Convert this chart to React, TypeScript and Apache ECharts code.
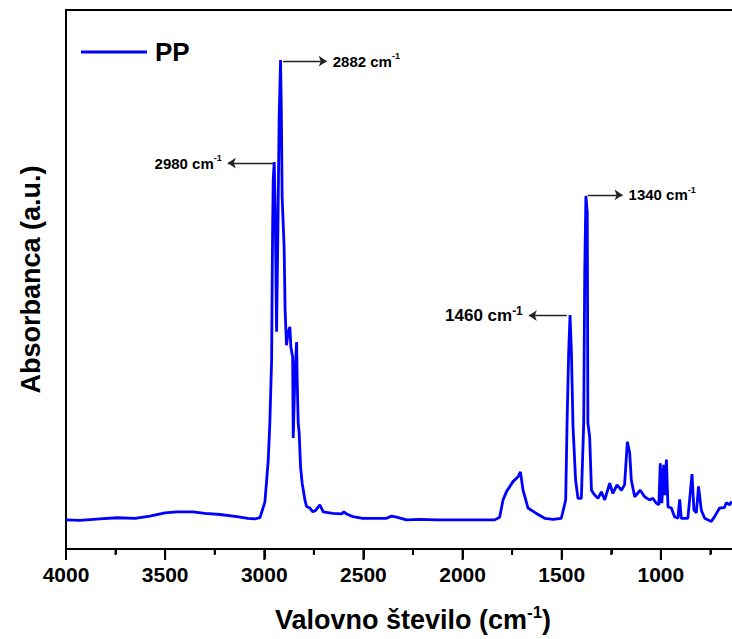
import React, { useEffect, useRef } from 'react';
import * as echarts from 'echarts';

const wavenumbers = [
  4000, 3929, 3829, 3743, 3652, 3577, 3501, 3441, 3360, 3299, 3224, 3138, 3083, 3047, 3022,
  2997, 2980, 2972, 2963, 2960, 2958, 2955, 2950, 2945, 2938, 2932, 2925, 2918, 2914, 2910,
  2900, 2895, 2888, 2880, 2871, 2866, 2857, 2854, 2846, 2837, 2834, 2829, 2824, 2817, 2809,
  2795, 2787, 2770, 2755, 2740, 2720, 2703, 2654, 2610, 2599, 2585, 2553, 2503, 2384, 2358,
  2333, 2283, 2216, 2132, 1964, 1838, 1813, 1796, 1779, 1746, 1720, 1708, 1695, 1670, 1628,
  1586, 1544, 1502, 1480, 1473, 1465, 1458, 1451, 1443, 1430, 1418, 1401, 1389, 1384, 1378,
  1371, 1368, 1359, 1350, 1334, 1317, 1300, 1283, 1258, 1242, 1221, 1199, 1183, 1169, 1157,
  1149, 1132, 1104, 1082, 1057, 1040, 1023, 1010, 1003, 995, 986, 980, 972, 964, 947,
  931, 914, 905, 897, 864, 855, 843, 833, 821, 810, 796, 779, 746, 729, 704,
  679, 670, 653, 643,
];

const absorbance = [
  0.054, 0.053, 0.056, 0.058, 0.057, 0.061, 0.067, 0.069, 0.069, 0.066, 0.064, 0.060, 0.057, 0.056, 0.058,
  0.087, 0.165, 0.234, 0.351, 0.505, 0.592, 0.685, 0.718, 0.629, 0.403, 0.573, 0.801, 0.907, 0.814, 0.653,
  0.560, 0.443, 0.378, 0.401, 0.412, 0.375, 0.356, 0.206, 0.319, 0.384, 0.314, 0.234, 0.215, 0.152, 0.122,
  0.091, 0.079, 0.076, 0.069, 0.072, 0.082, 0.069, 0.066, 0.065, 0.069, 0.065, 0.060, 0.057, 0.057, 0.061,
  0.059, 0.054, 0.055, 0.054, 0.054, 0.054, 0.059, 0.091, 0.106, 0.125, 0.134, 0.143, 0.109, 0.076, 0.066,
  0.057, 0.055, 0.057, 0.091, 0.234, 0.364, 0.434, 0.364, 0.227, 0.128, 0.094, 0.094, 0.234, 0.512, 0.655,
  0.623, 0.234, 0.208, 0.109, 0.100, 0.094, 0.106, 0.091, 0.122, 0.103, 0.119, 0.109, 0.119, 0.199, 0.178,
  0.128, 0.097, 0.109, 0.097, 0.091, 0.094, 0.085, 0.082, 0.159, 0.085, 0.156, 0.100, 0.166, 0.078, 0.076,
  0.060, 0.057, 0.092, 0.057, 0.057, 0.091, 0.139, 0.072, 0.067, 0.116, 0.072, 0.057, 0.051, 0.060, 0.076,
  0.077, 0.086, 0.082, 0.088,
];

// Tick positions on the wavenumber axis
const majorTicks = [4000, 3500, 3000, 2500, 2000, 1500, 1000];
const minorTicks = [3750, 3250, 2750, 2250, 1750, 1250, 750];

// Peak annotations: label text, arrow start and arrow end (wavenumber, absorbance)
const annotationLabels = ['2882', '2980', '1340', '1460'];
const annotationStart = [[2905, 0.905], [2955, 0.716], [1369, 0.657], [1475, 0.433]];
const annotationEnd = [[2685, 0.905], [3184, 0.716], [1193, 0.657], [1666, 0.433]];
const annotationFont = [15, 15, 15, 17];

const seriesName = 'PP';
const xTitle = 'Valovno število (cm';
const yTitle = 'Absorbanca (a.u.)';

const FONT = '"Liberation Sans", Arial, Helvetica, sans-serif';

export default function App() {
  const ref = useRef<HTMLDivElement>(null);

  useEffect(() => {
    document.body.style.margin = '0';
    if (!ref.current) return;
    const chart = echarts.init(ref.current, null, { renderer: 'svg' });

    const data = wavenumbers.map((w, i) => [w, absorbance[i]]);
    const tickData = [
      ...majorTicks.map((v) => [v, 0, 10]),
      ...minorTicks.map((v) => [v, 0, 5]),
    ];

    const markData = annotationLabels.map((lab, i) => {
      const fs = annotationFont[i];
      const big = fs > 15;
      return [
        { coord: annotationStart[i], symbol: 'none' },
        {
          coord: annotationEnd[i],
          symbol: 'arrow',
          label: {
            show: true,
            position: 'end',
            distance: 6,
            formatter: `{a|${lab} cm}{b|-1}`,
            rich: {
              a: { fontSize: fs, fontWeight: 'bold', fontFamily: FONT, color: '#000', lineHeight: fs + 4 },
              b: {
                fontSize: big ? 12 : 9,
                fontWeight: 'bold',
                fontFamily: FONT,
                color: '#000',
                lineHeight: big ? 13 : 10,
                verticalAlign: 'top',
              },
            },
          },
        },
      ];
    });

    const option: any = {
      animation: false,
      grid: {
        left: 66,
        top: 10,
        width: 694,
        height: 539,
        outerBoundsMode: 'none',
        containLabel: false,
        show: true,
        borderColor: '#000',
        borderWidth: 2,
        backgroundColor: 'transparent',
      },
      legend: {
        data: [{ name: seriesName, icon: 'rect' }],
        left: 76,
        top: 34,
        itemWidth: 66,
        itemHeight: 3,
        itemGap: 10,
        textStyle: {
          fontFamily: FONT,
          fontWeight: 'bold',
          fontSize: 26,
          color: '#000',
          padding: [0, 0, 0, 3],
        },
      },
      xAxis: {
        type: 'value',
        min: 500,
        max: 4000,
        interval: 500,
        inverse: true,
        axisLine: { show: true, onZero: false, lineStyle: { color: '#000', width: 2 } },
        axisTick: { show: true, inside: false, length: 10, lineStyle: { color: '#000', width: 2 } },
        minorTick: { show: true, splitNumber: 2, length: 5, lineStyle: { color: '#000', width: 2 } },
        splitLine: { show: false },
        axisLabel: {
          fontFamily: FONT,
          fontWeight: 'bold',
          fontSize: 21,
          color: '#000',
          margin: 15,
          formatter: (v: number) => (v === 500 ? '' : String(v)),
        },
        name: `{a|${xTitle}}{b|-1}{a|)}`,
        nameLocation: 'middle',
        nameGap: 55,
        nameTextStyle: {
          rich: {
            a: { fontFamily: FONT, fontWeight: 'bold', fontSize: 27, color: '#000', lineHeight: 32 },
            b: { fontFamily: FONT, fontWeight: 'bold', fontSize: 17, color: '#000', lineHeight: 20, verticalAlign: 'top' },
          },
        },
      },
      yAxis: {
        type: 'value',
        min: 0,
        max: 1,
        axisLine: { show: true, onZero: false, lineStyle: { color: '#000', width: 2 } },
        axisTick: { show: false },
        axisLabel: { show: false },
        splitLine: { show: false },
        name: yTitle,
        nameLocation: 'middle',
        nameGap: 22,
        nameTextStyle: { fontFamily: FONT, fontWeight: 'bold', fontSize: 27, color: '#000' },
      },
      series: [
        {
          type: 'line',
          name: seriesName,
          data,
          showSymbol: false,
          symbol: 'none',
          lineStyle: { color: '#0000ff', width: 2.8 },
          itemStyle: { color: '#0000ff' },
          markLine: {
            silent: true,
            symbolSize: 8,
            lineStyle: { color: '#222', width: 1.3, type: 'solid' },
            emphasis: { disabled: true },
            data: markData,
          },
        },
        {
          type: 'custom',
          name: 'ticks',
          silent: true,
          clip: false,
          data: tickData,
          renderItem: (_params: any, api: any) => {
            const p = api.coord([api.value(0), 0]);
            const len = api.value(2);
            return {
              type: 'line',
              shape: { x1: p[0], y1: p[1] + 1, x2: p[0], y2: p[1] + 1 + len },
              style: { stroke: '#000', lineWidth: 2 },
            };
          },
        },
      ],
    };

    chart.setOption(option);
    return () => chart.dispose();
  }, []);

  return (
    <div
      ref={ref}
      style={{ position: 'fixed', left: 0, top: 0, width: 732, height: 639, background: '#fff' }}
    />
  );
}
